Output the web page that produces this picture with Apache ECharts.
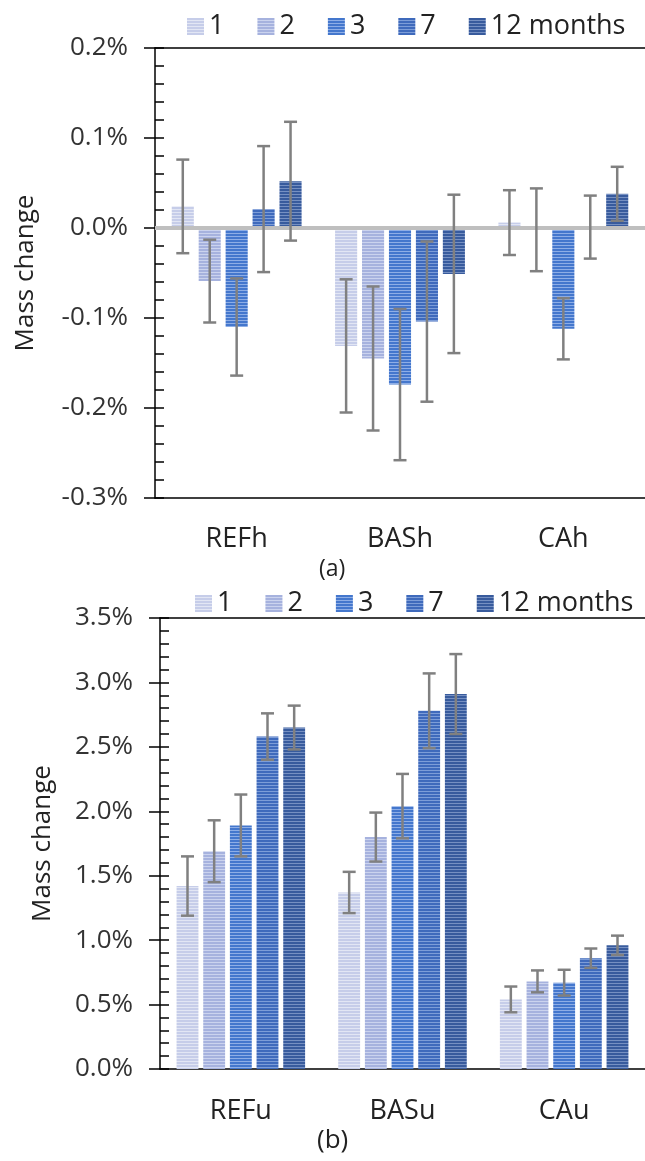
<!DOCTYPE html>
<html><head><meta charset="utf-8">
<script src="https://cdn.jsdelivr.net/npm/echarts@6/dist/echarts.min.js"></script>
<style>html,body{margin:0;padding:0;background:#fff}#c{width:645px;height:1161px}</style>
</head><body><div id="c"></div>
<script>
// ---------- data ----------
const seriesNames = ['1', '2', '3', '7', '12 months'];
const catsA = ['REFh', 'BASh', 'CAh'];
const catsB = ['REFu', 'BASu', 'CAu'];
// panel (a): mass change in %, per month series, per category
const valsA = [
  [0.024, -0.131, 0.006],
  [-0.059, -0.145, -0.002],
  [-0.110, -0.174, -0.112],
  [0.021, -0.104, 0.001],
  [0.052, -0.051, 0.038]
];
const errA = [
  [0.052, 0.074, 0.036],
  [0.046, 0.080, 0.046],
  [0.054, 0.084, 0.034],
  [0.070, 0.089, 0.035],
  [0.066, 0.088, 0.030]
];
// panel (b)
const valsB = [
  [1.42, 1.37, 0.54],
  [1.69, 1.80, 0.68],
  [1.89, 2.04, 0.67],
  [2.58, 2.78, 0.86],
  [2.65, 2.91, 0.96]
];
const errB = [
  [0.23, 0.16, 0.10],
  [0.24, 0.19, 0.085],
  [0.24, 0.25, 0.10],
  [0.18, 0.29, 0.075],
  [0.17, 0.31, 0.075]
];
const yTicksA = { min: -0.3, max: 0.2, major: 0.1, minor: 0.02 };
const yTicksB = { min: 0, max: 3.5, major: 0.5, minor: 0.1 };

// ---------- style ----------
const FONT = 'Open Sans';
const baseCols = ['#c6cde9', '#a6b2de', '#4477cd', '#3f6abc', '#385b9d'];
const lightCols = ['#e2e6f4', '#cbd3ee', '#8eaee6', '#7d9dd8', '#7690c2'];
function stripe(base, light) {
  const cv = document.createElement('canvas');
  cv.width = 8; cv.height = 3;
  const ctx = cv.getContext('2d');
  ctx.fillStyle = base; ctx.fillRect(0, 0, 8, 3);
  ctx.fillStyle = light; ctx.fillRect(0, 2, 8, 1);
  return { image: cv, repeat: 'repeat' };
}
const patterns = baseCols.map((c, i) => stripe(c, lightCols[i]));

const CAT_GAP = 0.205, BAR_GAP = 0.22;
function errRender(idx) {
  return function (params, api) {
    const band = api.size([1, 0])[0];
    const n = 5;
    const barW = band * (1 - CAT_GAP) / (n + (n - 1) * BAR_GAP);
    const groupW = n * barW + (n - 1) * barW * BAR_GAP;
    const off = -groupW / 2 + barW / 2 + idx * barW * (1 + BAR_GAP);
    const ci = api.value(0), v = api.value(1), e = api.value(2);
    const hi = api.coord([ci, v + e]);
    const lo = api.coord([ci, v - e]);
    const x = hi[0] + off;
    const cap = 6.5;
    const st = { stroke: '#808080', lineWidth: 2.5 };
    return {
      type: 'group',
      children: [
        { type: 'line', shape: { x1: x, y1: hi[1], x2: x, y2: lo[1] }, style: st },
        { type: 'line', shape: { x1: x - cap, y1: hi[1], x2: x + cap, y2: hi[1] }, style: st },
        { type: 'line', shape: { x1: x - cap, y1: lo[1], x2: x + cap, y2: lo[1] }, style: st }
      ]
    };
  };
}

function pctFmt(v) { return v.toFixed(1) + '%'; }

const series = [];
[[valsA, errA, 0], [valsB, errB, 1]].forEach(([vals, errs, g]) => {
  vals.forEach((arr, i) => {
    const s = {
      type: 'bar', name: seriesNames[i],
      xAxisIndex: g * 2, yAxisIndex: g * 2,
      data: arr,
      barCategoryGap: (CAT_GAP * 100) + '%', barGap: (BAR_GAP * 100) + '%',
      itemStyle: { color: patterns[i] },
      emphasis: { disabled: true },
      animation: false
    };
    if (g === 0 && i === 0) {
      s.markLine = {
        silent: true, symbol: 'none', animation: false,
        label: { show: false },
        lineStyle: { color: '#bfbfbf', width: 4, type: 'solid' },
        data: [{ yAxis: 0 }]
      };
    }
    series.push(s);
  });
  vals.forEach((arr, i) => {
    series.push({
      type: 'custom', name: 'err' + g + i,
      xAxisIndex: g * 2, yAxisIndex: g * 2, z: 10,
      renderItem: errRender(i),
      data: arr.map((v, k) => [k, v, errs[i][k]]),
      animation: false, silent: true
    });
  });
});

function yAxes(g, t, nameGap) {
  return [
    {
      type: 'value', gridIndex: g, position: 'left', offset: 0,
      min: t.min, max: t.max, interval: t.major,
      name: 'Mass change', nameLocation: 'middle', nameGap: nameGap,
      nameTextStyle: { fontFamily: FONT, fontSize: 26, color: '#222' },
      axisLine: { show: true, lineStyle: { color: '#000', width: 1.5 } },
      axisTick: { show: true, inside: false, length: 11, lineStyle: { color: '#000', width: 1.5 } },
      axisLabel: { formatter: pctFmt, margin: 27, fontFamily: FONT, fontSize: 26, color: '#333' },
      splitLine: { show: false }
    },
    {
      type: 'value', gridIndex: g, position: 'left', offset: 0,
      min: t.min, max: t.max, interval: t.minor,
      axisLine: { show: false },
      axisTick: { show: true, inside: true, length: 9, lineStyle: { color: '#000', width: 1.5 } },
      axisLabel: { show: false },
      splitLine: { show: false }
    }
  ];
}
function xAxes(g, cats, margin) {
  return [
    {
      type: 'category', gridIndex: g, data: cats, position: 'bottom',
      axisLine: { show: true, onZero: false, lineStyle: { color: '#000', width: 1.5 } },
      axisTick: { show: false },
      axisLabel: { margin: margin, fontFamily: FONT, fontSize: 27, color: '#222' }
    },
    {
      type: 'category', gridIndex: g, data: cats, position: 'top',
      axisLine: { show: true, onZero: false, lineStyle: { color: '#000', width: 1.5 } },
      axisTick: { show: false }, axisLabel: { show: false }
    }
  ];
}

const legendCommon = {
  data: seriesNames, icon: 'rect', itemWidth: 17, itemHeight: 17, itemGap: 33,
  selectedMode: false,
  textStyle: { fontFamily: FONT, fontSize: 27, color: '#222', lineHeight: 27 }
};

const chart = echarts.init(document.getElementById('c'), null, { renderer: 'canvas' });
chart.setOption({
  animation: false,
  backgroundColor: '#fff',
  grid: [
    { left: 155, right: 0, top: 48, height: 450 },
    { left: 160, right: 0, top: 618, height: 451 }
  ],
  legend: [
    Object.assign({ left: 182, top: 8 }, legendCommon),
    Object.assign({ left: 190, top: 585 }, legendCommon)
  ],
  xAxis: xAxes(0, catsA, 28).concat(xAxes(1, catsB, 29)),
  yAxis: yAxes(0, yTicksA, 116).concat(yAxes(1, yTicksB, 104)),
  graphic: [
    { type: 'text', left: 319, top: 558, style: { text: '(a)', fontFamily: FONT, fontSize: 23, fill: '#222' } },
    { type: 'text', left: 317, top: 1128, style: { text: '(b)', fontFamily: FONT, fontSize: 26, fill: '#222' } }
  ],
  series: series
});
</script></body></html>
